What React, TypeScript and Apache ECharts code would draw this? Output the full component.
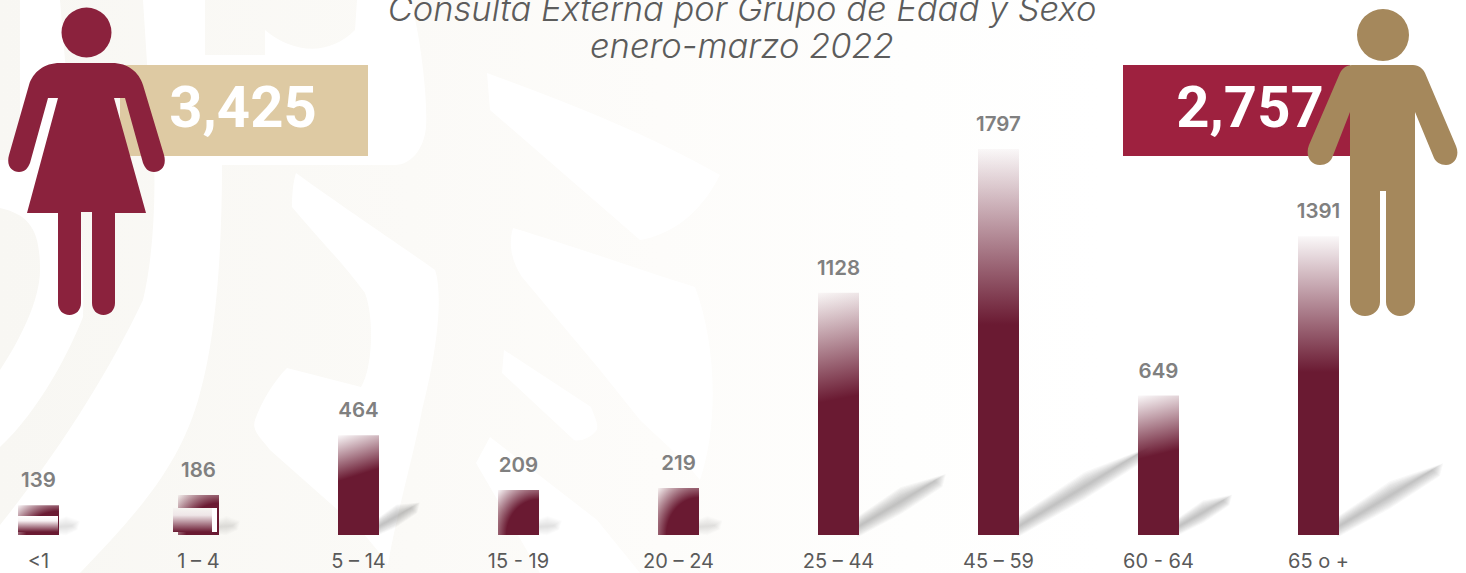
import React, { useEffect, useRef } from "react";
import * as echarts from "echarts";

const categories = ["<1", "1 – 4", "5 – 14", "15 - 19", "20 – 24", "25 – 44", "45 – 59", "60 - 64", "65 o +"];
const values = [139, 186, 464, 209, 219, 1128, 1797, 649, 1391];
const titleLines = ["Consulta Externa por Grupo de Edad y Sexo", "enero-marzo 2022"];
const womenTotal = "3,425";
const menTotal = "2,757";

const BAR = "#6a1a32";
const fade = "rgba(106,26,50,0.03)";

const WOMAN =
  "M61.5 32.5a25 25 0 1 0 50 0a25 25 0 1 0 -50 0Z" +
  "M60 63C44 63 33 72 29 85L9 155C6 166 12 172 19 172C25 172 28 168 30 163L48 98L58 98L27 213L58 213L58 303C58 310 63 315 69.5 315C76 315 81 310 81 303L81 212L92 212L92 303C92 310 97 315 103.5 315C110 315 115 310 115 303L115 213L146 213L114 98L125 98L143 163C145 168 148 172 154 172C161 172 167 166 164 155L143 85C139 72 128 63 112 63Z";
const MAN =
  "M1357 35a26 26 0 1 0 52 0a26 26 0 1 0 -52 0Z" +
  "M1352 65C1346 65 1342 69 1340 73L1309 145C1305 155 1310 165 1320 165C1326 165 1330 162 1332 158L1350 112L1350 302C1350 310 1357 316 1365 316C1373 316 1380 310 1380 302L1380 191L1386 191L1386 302C1386 310 1393 316 1400 316C1408 316 1415 310 1415 302L1415 112L1434 158C1436 162 1440 165 1446 165C1455 165 1460 155 1456 146L1425 73C1423 69 1419 65 1413 65Z";
const PATTERN =
  "M143 0L205 0L205 55L265 55L265 30C295 55 330 55 355 30L357 0L410 0C420 30 428 100 426 127C424 150 410 165 395 165L222 165C222 260 215 340 200 393C180 470 130 520 80 573L0 573L0 525C60 450 110 370 143 300C155 250 158 170 150 110Z" +
  "M20 0L60 0L65 60C75 130 85 250 83 317C70 350 40 410 0 447L0 370C20 340 40 300 40 270C40 230 30 215 0 208L0 160L20 160Z" +
  "M296 173C340 205 400 245 435 270C442 290 440 340 422 410C415 450 395 520 388 565C378 550 365 535 357 527L270 450C258 435 252 430 255 420C262 400 275 380 287 368L361 387C372 370 375 320 365 293C345 265 315 235 292 207C292 195 293 182 296 173Z" +
  "M513 228C570 245 640 270 695 287C715 340 720 420 700 480C680 455 655 435 640 420L600 370L522 277C512 262 508 245 513 228Z" +
  "M504 350L591 407C596 420 600 428 595 432C590 438 580 442 574 440L502 373Z" +
  "M490 437L597 520L640 573L540 573L476 463Z" +
  "M487 73C560 100 640 130 720 175C700 215 670 235 640 240L490 110Z";

echarts.graphic.registerShape("woman", echarts.graphic.extendPath(WOMAN, {}));
echarts.graphic.registerShape("man", echarts.graphic.extendPath(MAN, {}));
echarts.graphic.registerShape("pattern", echarts.graphic.extendPath(PATTERN, {}));

function barFill(v: number) {
  if (v < 300) {
    return {
      type: "radial", x: 1, y: 1, r: 1.42,
      colorStops: [{ offset: 0, color: BAR }, { offset: 0.56, color: BAR }, { offset: 1, color: fade }],
    };
  }
  const tiltPx = v < 500 ? 13 : v < 700 ? 10 : v < 1200 ? 8 : 0;
  const h = v * 0.2148;
  const y2 = 0.455;
  return {
    type: "linear", x: 0, y: 0, x2: (tiltPx / h) * y2, y2,
    colorStops: [{ offset: 0, color: fade }, { offset: 1, color: BAR }],
  };
}

function shadowItem(params: any, api: any) {
  const v = api.value(1);
  const p = api.coord([api.value(0), 0]);
  const dx = Math.max(v * 0.066, 12);
  const sx = p[0] + 21;
  const sy = p[1] - 8;
  const slope = v < 300 ? 0.1 : 0.62;
  const tMax = v < 300 ? 12 : v < 700 ? 14 : 17;
  const alpha = v < 300 ? 0.022 : 0.048;
  const layers = 10;
  const children = [];
  for (let k = 1; k <= layers; k++) {
    const t = (tMax * k) / layers;
    children.push({
      type: "polygon",
      shape: {
        points: [
          [sx - 2, sy + t * 0.6],
          [sx - 2, sy - t * 0.6],
          [sx + dx * 0.55, sy - dx * 0.55 * slope - t * 0.85],
          [sx + dx + t * 0.7, sy - dx * slope - t * 0.4],
          [sx + dx + t * 0.5, sy - dx * slope + t * 0.35],
          [sx + dx * 0.55, sy - dx * 0.55 * slope + t * 0.75],
        ],
      },
      style: { fill: `rgba(112,112,112,${alpha})` },
    });
  }
  return { type: "group", children };
}

export default function App() {
  const ref = useRef<HTMLDivElement>(null);
  useEffect(() => {
    const chart = echarts.init(ref.current!, null, { renderer: "svg" });
    const number = (text: string, x: number) => ({
      type: "text", z: 101, x, y: 107, silent: true,
      style: {
        text, fill: "#ffffff", font: "700 58px Roboto", textAlign: "center", textVerticalAlign: "middle",
      },
    });
    chart.setOption({
      animation: false,
      backgroundColor: "#ffffff",
      title: titleLines.map((text, i) => ({
        text,
        left: 737,
        top: i === 0 ? -14 : 23,
        textAlign: "center",
        textStyle: { color: "#5c5c5c", fontFamily: "Inter", fontStyle: "italic", fontWeight: 300, fontSize: 34.5 },
      })),
      grid: { left: 38.5, right: 147.5, top: 105.4, bottom: 38, containLabel: false },
      xAxis: {
        type: "category",
        boundaryGap: false,
        data: categories,
        axisLine: { show: false },
        axisTick: { show: false },
        axisLabel: { color: "#5a5a5a", fontFamily: "Inter", fontSize: 20, margin: 16, interval: 0 },
      },
      yAxis: { type: "value", min: 0, max: 2000, show: false, splitLine: { show: false } },
      series: [
        {
          type: "custom",
          z: 1,
          silent: true,
          clip: false,
          encode: { x: 0, y: 1 },
          data: values.map((v, i) => [i, v]),
          renderItem: shadowItem,
        },
        {
          type: "bar",
          z: 2,
          barWidth: 41,
          clip: false,
          data: values.map((v) => ({ value: v, itemStyle: { color: barFill(v) } })),
          label: {
            show: true,
            position: "top",
            distance: 15,
            color: "#808080",
            fontFamily: "Inter",
            fontWeight: 600,
            fontSize: 20.5,
          },
        },
      ],
      graphic: [
        {
          type: "rect", z: -10, silent: true,
          shape: { x: 0, y: 0, width: 1466, height: 573 },
          style: {
            fill: {
              type: "linear", x: 0, y: 0, x2: 1, y2: 0,
              colorStops: [
                { offset: 0, color: "#f8f7f3" },
                { offset: 0.28, color: "#fbfaf7" },
                { offset: 0.45, color: "#fdfcfa" },
                { offset: 0.62, color: "#fefefd" },
                { offset: 0.75, color: "#ffffff" },
              ],
            },
          },
        },
        { type: "pattern", z: -9, silent: true, x: 0, y: 0, style: { fill: "#ffffff" } },
        { type: "rect", z: 100, silent: true, shape: { x: 120, y: 65, width: 248, height: 91 }, style: { fill: "#decaa3" } },
        { type: "rect", z: 100, silent: true, shape: { x: 1123, y: 65, width: 227, height: 91 }, style: { fill: "#9e213f" } },
        number(womenTotal, 243),
        number(menTotal, 1250),
        { type: "woman", z: 102, silent: true, x: 0, y: 0, style: { fill: "#8b223d" } },
        { type: "man", z: 102, silent: true, x: 0, y: 0, style: { fill: "#a5885c" } },
        // pasted patches on the two shortest bars in the reference
        {
          type: "rect", z: 50, silent: true,
          shape: { x: 18, y: 516, width: 40, height: 16 },
          style: {
            fill: {
              type: "linear", x: 0, y: 0, x2: 0, y2: 1,
              colorStops: [{ offset: 0, color: "#ffffff" }, { offset: 0.3, color: "#f8f2f4" }, { offset: 1, color: BAR }],
            },
          },
        },
        { type: "rect", z: 50, silent: true, shape: { x: 173, y: 508, width: 44, height: 24 }, style: { fill: "#ffffff" } },
        {
          type: "rect", z: 51, silent: true,
          shape: { x: 173, y: 508, width: 39, height: 24 },
          style: {
            fill: {
              type: "linear", x: 0, y: 0, x2: 0, y2: 1,
              colorStops: [{ offset: 0, color: "#f6f4f1" }, { offset: 0.3, color: "#efe6e8" }, { offset: 1, color: BAR }],
            },
          },
        },
      ],
    });
    return () => chart.dispose();
  }, []);
  return <div ref={ref} style={{ position: "fixed", left: 0, top: 0, width: 1466, height: 573 }} />;
}
